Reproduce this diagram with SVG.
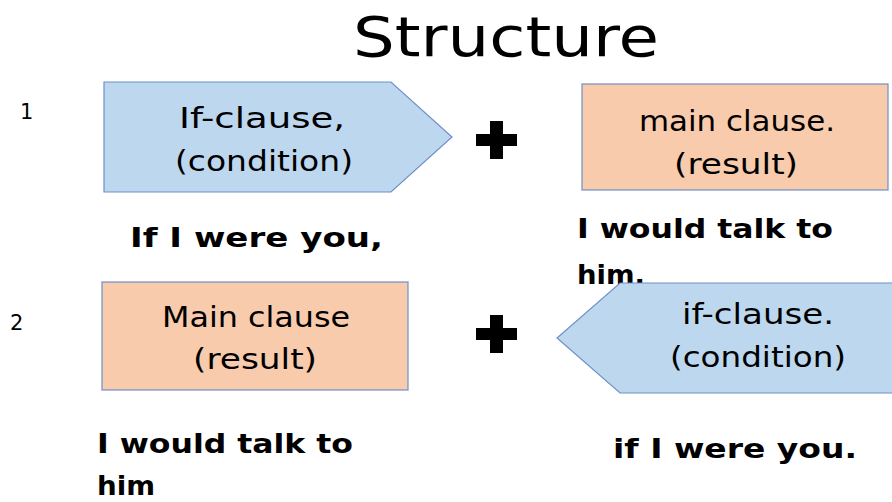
<svg xmlns="http://www.w3.org/2000/svg" width="892" height="502" viewBox="0 0 892 502">
<style>
.blue{fill:#BDD7EE;stroke:#6F8FC8;stroke-width:1.2}
.orange{fill:#F8CBAD;stroke:#6F8FC8;stroke-width:1.2}
.bt{font-family:"DejaVu Sans","Noto Sans",sans-serif;font-size:29px;fill:#000;text-anchor:middle}
.lab{font-family:"DejaVu Sans","Noto Sans",sans-serif;font-size:26px;font-weight:bold;fill:#000}
.num{font-family:"DejaVu Sans",sans-serif;font-size:21px;fill:#000}
.plus{fill:#000}
</style>
<rect width="892" height="502" fill="#fff"/>
<text x="506" y="56" font-family="DejaVu Sans,sans-serif" font-size="56" text-anchor="middle" textLength="306" lengthAdjust="spacingAndGlyphs">Structure</text>
<text class="num" x="20" y="119">1</text>
<text class="num" x="10" y="330">2</text>
<g id="node-if1">
<polygon class="blue" points="104,82 391,82 452,137 391,192 104,192"/>
<text class="bt" x="262" y="128" textLength="166" lengthAdjust="spacingAndGlyphs">If-clause,</text>
<text class="bt" x="264" y="171" textLength="178" lengthAdjust="spacingAndGlyphs">(condition)</text>
</g>
<g id="node-main1">
<rect class="orange" x="582" y="84" width="306" height="106"/>
<text class="bt" x="737" y="131" textLength="196" lengthAdjust="spacingAndGlyphs">main clause.</text>
<text class="bt" x="736" y="174" textLength="124" lengthAdjust="spacingAndGlyphs">(result)</text>
</g>
<g id="connectors">
<path class="plus" d="M490,121h13v13h14v12h-14v13h-13v-13h-14v-12h14z"/>
<path class="plus" d="M490,315h13v13h14v12h-14v13h-13v-13h-14v-12h14z"/>
</g>
<text class="lab" x="130" y="247" textLength="253" lengthAdjust="spacingAndGlyphs">If I were you,</text>
<text class="lab" x="577" y="238" textLength="256" lengthAdjust="spacingAndGlyphs">I would talk to</text>
<text class="lab" x="577" y="284" textLength="68" lengthAdjust="spacingAndGlyphs">him.</text>
<g id="node-main2">
<rect class="orange" x="102" y="282" width="306" height="108"/>
<text class="bt" x="256" y="327" textLength="188" lengthAdjust="spacingAndGlyphs">Main clause</text>
<text class="bt" x="255" y="369" textLength="124" lengthAdjust="spacingAndGlyphs">(result)</text>
</g>
<g id="node-if2">
<polygon class="blue" points="620,283 895,283 895,393 620,393 557,338"/>
<text class="bt" x="758" y="324" textLength="152" lengthAdjust="spacingAndGlyphs">if-clause.</text>
<text class="bt" x="758" y="367" textLength="176" lengthAdjust="spacingAndGlyphs">(condition)</text>
</g>
<text class="lab" x="97" y="453" textLength="256" lengthAdjust="spacingAndGlyphs">I would talk to</text>
<text class="lab" x="97" y="495" textLength="58" lengthAdjust="spacingAndGlyphs">him</text>
<text class="lab" x="613" y="458" textLength="244" lengthAdjust="spacingAndGlyphs">if I were you.</text>
</svg>
